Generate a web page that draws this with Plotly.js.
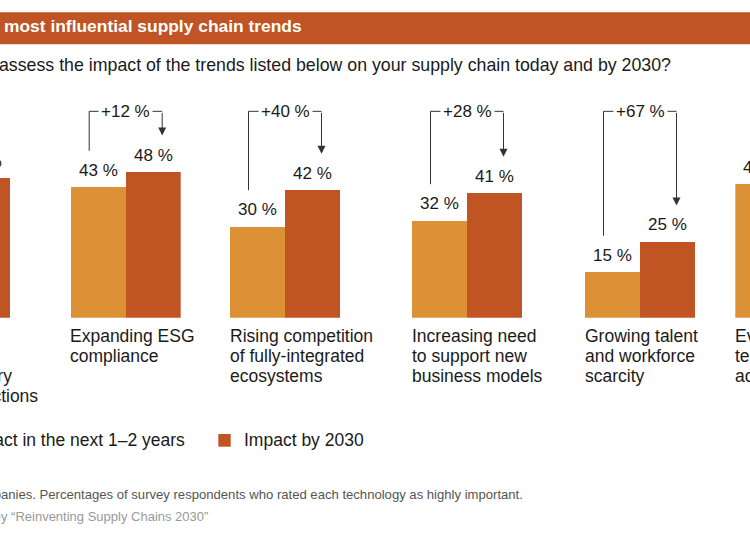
<!DOCTYPE html>
<html><head><meta charset="utf-8">
<script src="https://cdn.plot.ly/plotly-3.0.1.min.js"></script>
<style>html,body{margin:0;padding:0;overflow:hidden;background:#fff}#chart{width:750px;height:536px}</style>
</head><body><div id="chart"></div>
<script>
// ---------------- data ----------------
const categories = [
  "Increasing<br>geopolitical<br>and regulatory<br>export restrictions",
  "Expanding ESG<br>compliance",
  "Rising competition<br>of fully-integrated<br>ecosystems",
  "Increasing need<br>to support new<br>business models",
  "Growing talent<br>and workforce<br>scarcity",
  "Evolving<br>technology<br>acceleration"
];
const impactNext = [null, 43, 30, 32, 15, 44];   // Impact in the next 1–2 years (%)
const impact2030 = [46, 48, 42, 41, 25, null];   // Impact by 2030 (%)
const increase   = [null, 12, 40, 28, 67, null]; // relative increase (%)
const seriesNames = ["Impact in the next 1–2 years", "Impact by 2030"];
const titleText = "most influential supply chain trends";
const questionText = "assess the impact of the trends listed below on your supply chain today and by 2030?";
const noteText = "companies. Percentages of survey respondents who rated each technology as highly important.";
const sourceText = "Survey “Reinventing Supply Chains 2030”";

// ---------------- layout constants ----------------
const W = 750, H = 536;
const FONT = "Liberation Sans, Arial, Helvetica, sans-serif";
const colors = ["#DC9136", "#C05423"];
const textColor = "#1a1a1a";
const baselinePx = 317.7, pxPerPct = 3.035;
const groupLeftPx = [-100, 70.7, 230, 412, 585, 735.3];
const groupWidthPx = 110;
const bracketTop = 68;     // in % units
const bracketGap = 12;     // in % units above bar tops
const yTop = baselinePx / pxPerPct;

function axisId(i) { return i === 0 ? "" : String(i + 1); }
function pxX(i, d) { return groupLeftPx[i] + (d + 0.5) * groupWidthPx; }
function paperX(i, d) { return pxX(i, d) / W; }
function paperY(px) { return (H - px) / H; }

const data = [];
const layout = {
  width: W, height: H,
  margin: {l: 0, r: 0, t: 0, b: 0, autoexpand: false},
  paper_bgcolor: "#fff", plot_bgcolor: "rgba(0,0,0,0)",
  font: {family: FONT, color: textColor, size: 17.5},
  barmode: "group", bargap: 0, bargroupgap: 0,
  showlegend: false,
  yaxis: {domain: [1 - baselinePx / H, 1], range: [0, yTop], visible: false, fixedrange: true},
  annotations: [], shapes: []
};

for (let i = 0; i < categories.length; i++) {
  const id = axisId(i);
  const visL = Math.max(groupLeftPx[i], 0), visR = Math.min(groupLeftPx[i] + groupWidthPx, W);
  layout["xaxis" + id] = {
    domain: [visL / W, visR / W],
    range: [(visL - groupLeftPx[i]) / groupWidthPx - 0.5, (visR - groupLeftPx[i]) / groupWidthPx - 0.5],
    type: "category", visible: false, fixedrange: true, anchor: "y"
  };
  [impactNext, impact2030].forEach(function (vals, s) {
    data.push({
      type: "bar", x: [categories[i]], y: [vals[i]],
      xaxis: "x" + id, yaxis: "y",
      name: seriesNames[s], legendgroup: "s" + s,
      marker: {color: colors[s], line: {width: 0}},
      hoverinfo: "skip", textposition: "none"
    });
  });

  // value labels
  [[impactNext, -0.25], [impact2030, 0.25]].forEach(function (p) {
    const v = p[0][i];
    if (v === null) return;
    layout.annotations.push({
      xref: "paper", yref: "y", x: paperX(i, p[1]), y: v, yanchor: "middle", xanchor: "center",
      yshift: 17, text: v + " %", showarrow: false, font: {size: 17, color: textColor}
    });
  });
  // category labels, one annotation per line
  categories[i].split("<br>").forEach(function (line, k) {
    layout.annotations.push({
      xref: "paper", yref: "y", x: paperX(i, -0.5) - 1.3 / W, y: 0, xanchor: "left", yanchor: "middle",
      yshift: -(18.1 + 20 * k), text: line, showarrow: false, borderpad: 0,
      font: {size: 17.5, color: textColor}
    });
  });
  // increase bracket
  if (increase[i] !== null) {
    const xl = paperX(i, -0.5 + 18.5 / groupWidthPx), xr = paperX(i, -0.5 + 91.5 / groupWidthPx);
    const lc = {color: "#333", width: 1};
    layout.shapes.push({type: "line", xref: "paper", yref: "y", x0: xl, x1: xl,
      y0: impactNext[i] + bracketGap, y1: bracketTop, line: lc});
    layout.shapes.push({type: "line", xref: "paper", yref: "y", x0: xl, x1: xr,
      y0: bracketTop, y1: bracketTop, line: lc});
    const head = impact2030[i] + bracketGap;
    layout.annotations.push({
      xref: "paper", yref: "y", x: xr, y: head, axref: "pixel", ayref: "pixel",
      ax: 0, ay: -(bracketTop - head) * pxPerPct, text: "", showarrow: true,
      arrowhead: 2, arrowsize: 1.6, arrowwidth: 1, arrowcolor: "#333", standoff: 0, startstandoff: 0
    });
    layout.annotations.push({
      xref: "paper", yref: "y", x: (xl + xr) / 2, y: bracketTop, yanchor: "middle", xanchor: "center",
      text: "+" + increase[i] + " %", showarrow: false, bgcolor: "#fff", borderpad: 2,
      font: {size: 17, color: textColor}
    });
  }
}

// legend (drawn as swatches + labels)
const legendSwatchLeftPx = [-37, 218.3];
const legendTextRightPx = 186;
seriesNames.forEach(function (name, s) {
  const x0 = legendSwatchLeftPx[s];
  layout.shapes.push({type: "rect", xref: "paper", yref: "paper", x0: x0 / W, x1: (x0 + 12.4) / W,
    y0: paperY(446.7), y1: paperY(434), fillcolor: colors[s], line: {width: 0}});
  layout.annotations.push(s === 0 ? {
    xref: "paper", yref: "paper", x: legendTextRightPx / W, y: paperY(440), xanchor: "right", yanchor: "middle",
    text: name, showarrow: false, borderpad: 0, font: {size: 17.5, color: textColor}
  } : {
    xref: "paper", yref: "paper", x: (x0 + 24.5) / W, y: paperY(440), xanchor: "left", yanchor: "middle",
    text: name, showarrow: false, borderpad: 0, font: {size: 17.5, color: textColor}
  });
});

// title band
layout.shapes.push({type: "rect", xref: "paper", yref: "paper", x0: -0.02, x1: 1.02,
  y0: paperY(44.3), y1: paperY(12.3), fillcolor: "#C05424", line: {width: 0}, layer: "below"});
layout.annotations.push({xref: "paper", yref: "paper", x: 3 / W, y: paperY(26.5), xanchor: "left", yanchor: "middle",
  text: "<b>" + titleText + "</b>", showarrow: false, borderpad: 0, font: {size: 17.4, color: "#fff"}});
layout.annotations.push({xref: "paper", yref: "paper", x: -2 / W, y: paperY(65), xanchor: "left", yanchor: "middle",
  text: questionText, showarrow: false, borderpad: 0, font: {size: 17.75, color: textColor}});
layout.annotations.push({xref: "paper", yref: "paper", x: 524 / W, y: paperY(494.5), xanchor: "right", yanchor: "middle",
  text: noteText, showarrow: false, borderpad: 0, font: {size: 13.1, color: "#555"}});
layout.annotations.push({xref: "paper", yref: "paper", x: 209 / W, y: paperY(516.5), xanchor: "right", yanchor: "middle",
  text: sourceText, showarrow: false, borderpad: 0, font: {size: 13, color: "#999"}});

Plotly.newPlot("chart", data, layout, {staticPlot: true, displayModeBar: false});
</script></body></html>
